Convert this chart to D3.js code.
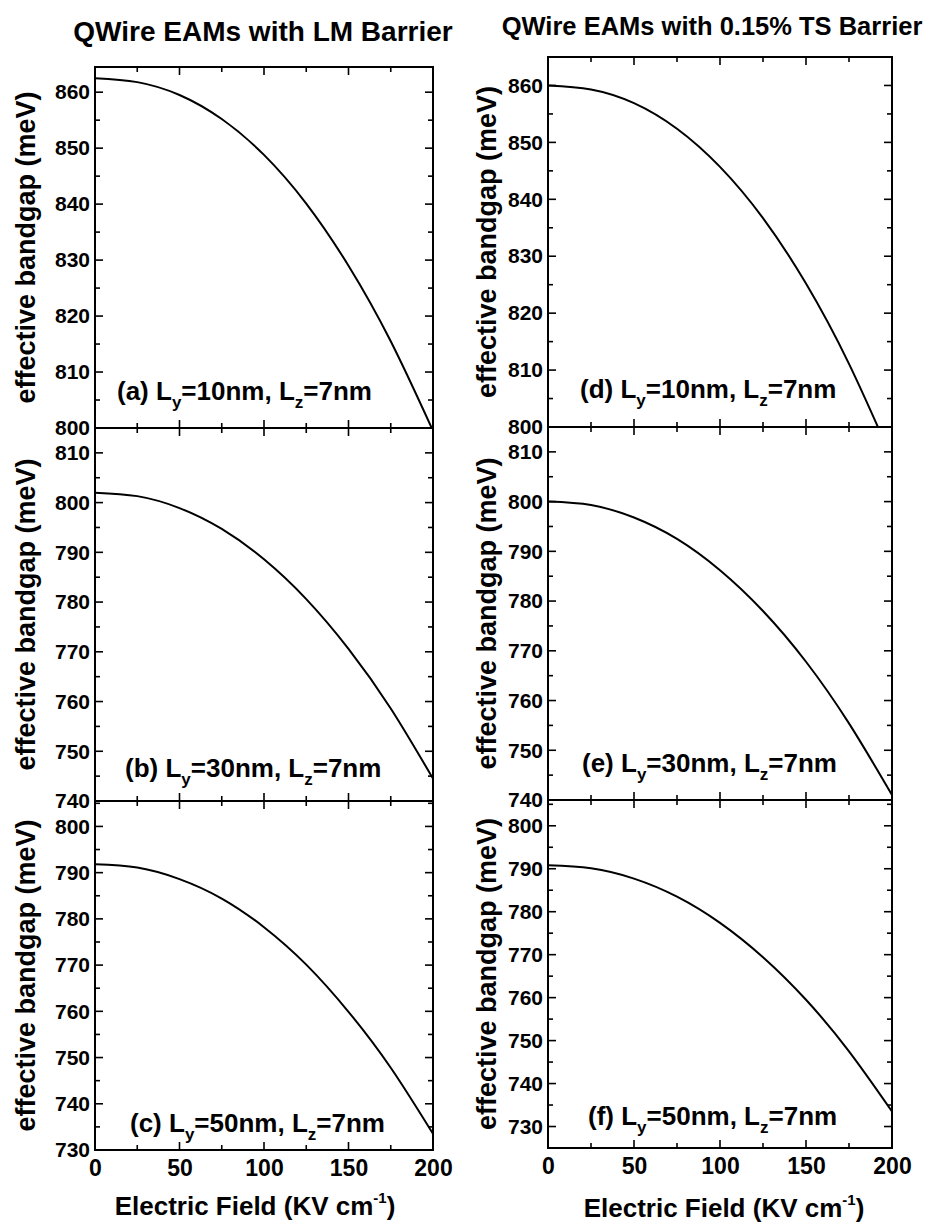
<!DOCTYPE html>
<html><head><meta charset="utf-8">
<script src="https://cdn.jsdelivr.net/npm/d3@7/dist/d3.min.js"></script>
<style>body{margin:0;background:#fff}svg{display:block}text{font-family:"Liberation Sans",Arial,Helvetica,sans-serif;fill:#000}</style>
</head><body>
<svg id="chart" width="926" height="1231"></svg>
<script>
// ---- data ----
const fieldKV = [0, 25, 50, 75, 100, 125, 150, 175, 200];
const gapA = [862.5, 861.8, 859.5, 855.2, 848.8, 840.1, 829.0, 815.5, 799.5];
const gapB = [802.0, 801.3, 798.9, 794.7, 788.6, 780.6, 770.6, 758.6, 744.5];
const gapC = [791.8, 791.1, 788.6, 784.4, 778.2, 770.1, 759.9, 747.8, 733.5];
const gapD = [860.0, 859.3, 856.9, 852.4, 845.7, 836.7, 825.2, 811.1, 794.4];
const gapE = [800.0, 799.3, 796.8, 792.5, 786.2, 778.0, 767.8, 755.4, 741.0];
const gapF = [790.8, 790.1, 787.7, 783.5, 777.4, 769.4, 759.5, 747.5, 733.5];
const xTickLabels = [0, 50, 100, 150, 200];
const yTicksA = [800, 810, 820, 830, 840, 850, 860];
const yTicksB = [740, 750, 760, 770, 780, 790, 800, 810];
const yTicksC = [730, 740, 750, 760, 770, 780, 790, 800];
const yTicksD = [800, 810, 820, 830, 840, 850, 860];
const yTicksE = [740, 750, 760, 770, 780, 790, 800, 810];
const yTicksF = [730, 740, 750, 760, 770, 780, 790, 800];
const panelLetters = ["a", "b", "c", "d", "e", "f"];
const panelLy = ["10", "30", "50", "10", "30", "50"];
const panelLz = "7";
const columnTitles = ["QWire EAMs with LM Barrier", "QWire EAMs with 0.15% TS Barrier"];
const yAxisTitle = "effective bandgap (meV)";
const xAxisTitle = "Electric Field (KV cm";

// ---- layout ----
const svg = d3.select("#chart");
const FONT = '"Liberation Sans",Arial,Helvetica,sans-serif';
const columns = [
  {x0: 95, x1: 433, titleX: 263, titleY: 41, titleSize: 28, ylabX: 35, xtitleX: 255, xtitleY: 1215,
   rows: [[67, 428], [428, 801], [801, 1150]]},
  {x0: 548, x1: 892, titleX: 712, titleY: 35, titleSize: 25.5, ylabX: 496, xtitleX: 724, xtitleY: 1217,
   rows: [[57, 427], [427, 800], [800, 1148]]}
];
const panels = [
  {col: 0, row: 0, data: gapA, dom: [800, 864.5], ticks: yTicksA, labX: 117, labUp: 28},
  {col: 0, row: 1, data: gapB, dom: [740, 815], ticks: yTicksB, labX: 125, labUp: 24},
  {col: 0, row: 2, data: gapC, dom: [730, 805.5], ticks: yTicksC, labX: 130, labUp: 18},
  {col: 1, row: 0, data: gapD, dom: [800, 865], ticks: yTicksD, labX: 580, labUp: 29},
  {col: 1, row: 1, data: gapE, dom: [740, 815], ticks: yTicksE, labX: 582, labUp: 28},
  {col: 1, row: 2, data: gapF, dom: [725, 806], ticks: yTicksF, labX: 588, labUp: 23}
];

columns.forEach((c, ci) => {
  svg.append("text").attr("x", c.titleX).attr("y", c.titleY)
    .attr("text-anchor", "middle").attr("font-weight", "bold")
    .attr("font-size", c.titleSize).text(columnTitles[ci]);
  svg.append("text").attr("x", c.xtitleX).attr("y", c.xtitleY)
    .attr("text-anchor", "middle").attr("font-weight", "bold").attr("font-size", 26)
    .call(t => {
      t.append("tspan").text(xAxisTitle);
      t.append("tspan").attr("font-size", 15).attr("dy", -12).text("-1");
      t.append("tspan").attr("dy", 12).text(")");
    });
});

panels.forEach((p, i) => {
  const c = columns[p.col];
  const [top, bot] = c.rows[p.row];
  const x = d3.scaleLinear().domain([0, 200]).range([c.x0, c.x1]);
  const y = d3.scaleLinear().domain(p.dom).range([bot, top]);
  const g = svg.append("g");
  const clipId = "clip" + i;
  svg.append("clipPath").attr("id", clipId).append("rect")
    .attr("x", c.x0).attr("y", top).attr("width", c.x1 - c.x0).attr("height", bot - top);

  // inward ticks on all four sides
  const yMinor = d3.range(Math.ceil(p.dom[0] / 5) * 5, p.dom[1] + 0.01, 5);
  const xMinor = d3.range(0, 201, 25);
  const tickG = g.append("g").attr("stroke", "#000").attr("stroke-width", 1.6);
  yMinor.forEach(v => {
    const L = v % 10 === 0 ? 8 : 5;
    if (y(v) < top + 1 || y(v) > bot - 1) return;
    tickG.append("line").attr("x1", c.x0).attr("x2", c.x0 + L).attr("y1", y(v)).attr("y2", y(v));
    tickG.append("line").attr("x1", c.x1).attr("x2", c.x1 - L).attr("y1", y(v)).attr("y2", y(v));
  });
  xMinor.forEach(v => {
    const L = v % 50 === 0 ? 8 : 5;
    if (v === 0 || v === 200) return;
    tickG.append("line").attr("x1", x(v)).attr("x2", x(v)).attr("y1", top).attr("y2", top + L);
    tickG.append("line").attr("x1", x(v)).attr("x2", x(v)).attr("y1", bot).attr("y2", bot - L);
  });

  // y tick labels
  const ya = g.append("g").attr("transform", `translate(${c.x0},0)`)
    .call(d3.axisLeft(y).tickValues(p.ticks).tickSize(0).tickPadding(5));
  ya.select(".domain").remove();
  ya.selectAll("text").attr("font-family", FONT).attr("font-weight", "bold")
    .attr("font-size", 21).attr("fill", "#000");

  // x tick labels on bottom row
  if (p.row === 2) {
    const xa = g.append("g").attr("transform", `translate(0,${bot})`)
      .call(d3.axisBottom(x).tickValues(xTickLabels).tickSize(0).tickPadding(10));
    xa.select(".domain").remove();
    xa.selectAll("text").attr("font-family", FONT).attr("font-weight", "bold")
      .attr("font-size", 23).attr("fill", "#000");
  }

  // curve
  const line = d3.line().x((d, k) => x(fieldKV[k])).y(d => y(d)).curve(d3.curveNatural);
  g.append("path").datum(p.data).attr("d", line).attr("fill", "none")
    .attr("stroke", "#000").attr("stroke-width", 2).attr("clip-path", `url(#${clipId})`);

  // frame
  g.append("rect").attr("x", c.x0).attr("y", top).attr("width", c.x1 - c.x0).attr("height", bot - top)
    .attr("fill", "none").attr("stroke", "#000").attr("stroke-width", 2);

  // panel label
  const lab = g.append("text").attr("x", p.labX).attr("y", bot - p.labUp)
    .attr("font-size", 26).attr("font-weight", "bold");
  lab.append("tspan").text(`(${panelLetters[i]}) L`);
  lab.append("tspan").attr("font-size", 17).attr("dy", 8).text("y");
  lab.append("tspan").attr("dy", -8).text(`=${panelLy[i]}nm, L`);
  lab.append("tspan").attr("font-size", 17).attr("dy", 8).text("z");
  lab.append("tspan").attr("dy", -8).text(`=${panelLz}nm`);

  // y axis title
  svg.append("text").attr("transform", `translate(${c.ylabX},${(top + bot) / 2}) rotate(-90)`)
    .attr("text-anchor", "middle").attr("font-weight", "bold").attr("font-size", 27)
    .text(yAxisTitle);
});
</script>
</body></html>
